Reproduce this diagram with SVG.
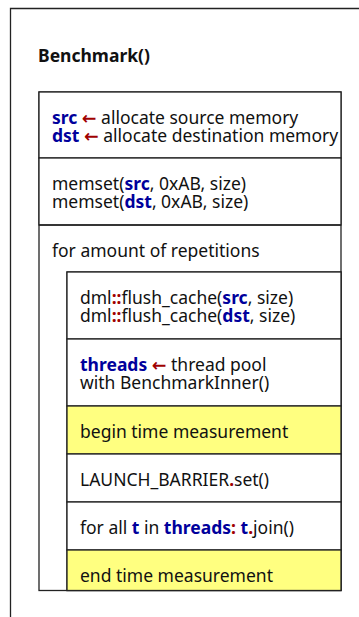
<svg xmlns="http://www.w3.org/2000/svg" width="359" height="617" viewBox="0 0 359 617">
<style>
.t{font-family:"Noto Sans","Open Sans","DejaVu Sans",sans-serif;font-size:17.5px;fill:#111}
.b{font-weight:bold}
.k{font-weight:bold;fill:#00009c}
.r{font-weight:bold;fill:#a00000}
.box{fill:#fff;stroke:#222;stroke-width:1.3}
.hl{fill:#ffff80;stroke:#222;stroke-width:1.3}
.ln{fill:none;stroke:#222;stroke-width:1.3}
</style>
<g id="frame">
<path class="ln" d="M10.5 617 V8.5 H360"/>
<text class="t b" x="38" y="62">Benchmark()</text>
</g>
<g id="body">
<rect class="box" x="39" y="92" width="302" height="498.5"/>
</g>
<g id="alloc">
<rect class="box" x="39" y="92" width="302" height="66"/>
<text class="t" x="52" y="124"><tspan class="k">src</tspan> <tspan class="r">←</tspan> allocate source memory</text>
<text class="t" x="52" y="141.5"><tspan class="k">dst</tspan> <tspan class="r">←</tspan> allocate destination memory</text>
</g>
<g id="memset">
<rect class="box" x="39" y="158" width="302" height="67"/>
<text class="t" x="52" y="190">memset(<tspan class="k">src</tspan>, 0xAB, size)</text>
<text class="t" x="52" y="207.5">memset(<tspan class="k">dst</tspan>, 0xAB, size)</text>
</g>
<g id="loop">
<path class="ln" d="M39 225 H341"/>
<text class="t" x="52" y="257">for amount of repetitions</text>
<rect class="box" x="67" y="272" width="274" height="318.5"/>
</g>
<g id="flush">
<rect class="box" x="67" y="272" width="274" height="67"/>
<text class="t" x="80" y="304">dml<tspan class="r">::</tspan>flush_cache(<tspan class="k">src</tspan>, size)</text>
<text class="t" x="80" y="321.5">dml<tspan class="r">::</tspan>flush_cache(<tspan class="k">dst</tspan>, size)</text>
</g>
<g id="threads">
<rect class="box" x="67" y="339" width="274" height="67"/>
<text class="t" x="80" y="371"><tspan class="k">threads</tspan> <tspan class="r">←</tspan> thread pool</text>
<text class="t" x="80" y="388.5">with BenchmarkInner()</text>
</g>
<g id="begin">
<rect class="hl" x="67" y="406" width="274" height="48"/>
<text class="t" x="80" y="438">begin time measurement</text>
</g>
<g id="barrier">
<rect class="box" x="67" y="454" width="274" height="48"/>
<text class="t" x="80" y="486">LAUNCH_BARRIER<tspan class="r">.</tspan>set()</text>
</g>
<g id="join">
<rect class="box" x="67" y="502" width="274" height="48"/>
<text class="t" x="80" y="534">for all <tspan class="k">t</tspan> in <tspan class="k">threads</tspan><tspan class="r">:</tspan> <tspan class="k">t</tspan><tspan class="r">.</tspan>join()</text>
</g>
<g id="end">
<rect class="hl" x="67" y="550" width="274" height="40.5"/>
<text class="t" x="80" y="582">end time measurement</text>
</g>
</svg>
